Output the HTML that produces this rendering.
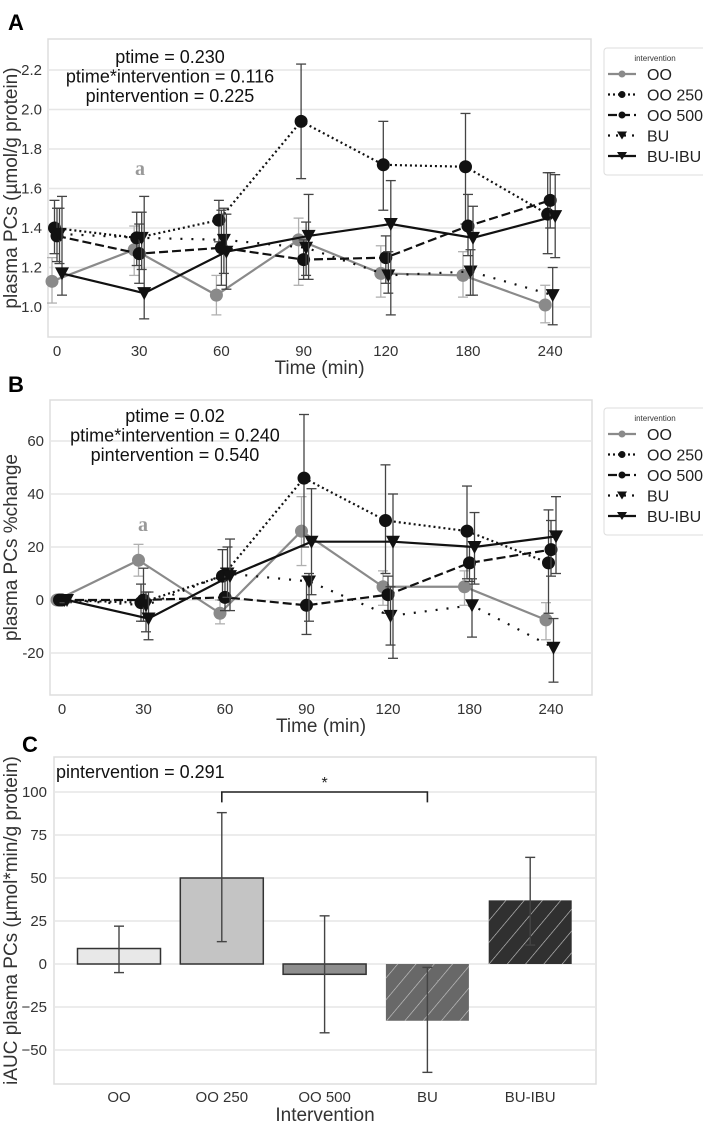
<!DOCTYPE html>
<html><head><meta charset="utf-8">
<style>
html,body{margin:0;padding:0;background:#fff;}
svg{display:block;font-family:"Liberation Sans",Arial,sans-serif;}
</style></head>
<body>
<svg id="fig" width="703" height="1127" viewBox="0 0 703 1127" xmlns="http://www.w3.org/2000/svg">
<text x="8" y="30" font-size="22" font-weight="bold">A</text>
<text x="8" y="392" font-size="22" font-weight="bold">B</text>
<text x="22" y="752" font-size="22" font-weight="bold">C</text>
</svg>
<script>
const NS="http://www.w3.org/2000/svg";
const svg=document.getElementById('fig');
function mk(tag,attrs,parent){const e=document.createElementNS(NS,tag);for(const k in attrs)e.setAttribute(k,attrs[k]);(parent||svg).appendChild(e);return e;}

// ---- shared data ----
const timeLabels=["0","30","60","90","120","180","240"];
const seriesNames=["OO","OO 250","OO 500","BU","BU-IBU"];

// ---- panel A data ----
const aOO=[1.13,1.29,1.06,1.34,1.17,1.16,1.01];
const aOOLo=[1.02,1.16,0.96,1.11,1.05,1.05,0.92];
const aOOHi=[1.25,1.41,1.16,1.45,1.31,1.28,1.11];
const aOO250=[1.40,1.35,1.44,1.94,1.72,1.71,1.47];
const aOO250Lo=[1.27,1.21,1.33,1.65,1.49,1.42,1.27];
const aOO250Hi=[1.54,1.48,1.54,2.23,1.94,1.98,1.68];
const aOO500=[1.36,1.27,1.30,1.24,1.25,1.41,1.54];
const aOO500Lo=[1.23,1.12,1.11,1.14,1.12,1.26,1.40];
const aOO500Hi=[1.50,1.42,1.49,1.34,1.36,1.57,1.68];
const aBU=[1.37,1.35,1.34,1.30,1.16,1.18,1.06];
const aBULo=[1.22,1.19,1.17,1.16,1.07,1.06,0.91];
const aBUHi=[1.50,1.48,1.50,1.43,1.28,1.29,1.20];
const aBUIBU=[1.17,1.07,1.28,1.36,1.42,1.35,1.46];
const aBUIBULo=[1.06,0.94,1.09,1.14,0.96,1.06,1.25];
const aBUIBUHi=[1.56,1.56,1.47,1.57,1.64,1.51,1.67];
const aTicks=[1.0,1.2,1.4,1.6,1.8,2.0,2.2];
const aTickLabels=["1.0","1.2","1.4","1.6","1.8","2.0","2.2"];

// ---- panel B data ----
const bOO=[0,15,-5,26,5,5,-7.5];
const bOOLo=[-1,9,-9,13,-2,-2,-15];
const bOOHi=[1,21,0,39,11,11,-1];
const bOO250=[0,-1,9,46,30,26,14];
const bOO250Lo=[-1,-8,0,20,10,8,-5];
const bOO250Hi=[1,6,19,70,51,43,34];
const bOO500=[0,0,1,-2,2,14,19];
const bOO500Lo=[-1,-8,-4,-13,-5,7,9];
const bOO500Hi=[1,12,12,9,9,20,30];
const bBU=[0,-2,10,7,-6,-2,-18];
const bBULo=[-1,-12,1,-8,-17,-14,-31];
const bBUHi=[1,3,20,10,5,8,-7];
const bBUIBU=[0,-7,9,22,22,20,24];
const bBUIBULo=[-1,-15,-4,2,-22,6,10];
const bBUIBUHi=[1,3,23,42,40,33,39];
const bTicks=[-20,0,20,40,60];
const bTickLabels=["-20","0","20","40","60"];

// ---- panel C data ----
const cCats=["OO","OO 250","OO 500","BU","BU-IBU"];
const cVals=[9,50,-6,-33,37];
const cLo=[-5,13,-40,-63,11];
const cHi=[22,88,28,-2,62];
const cTicks=[-50,-25,0,25,50,75,100];
const cTickLabels=["−50","−25","0","25","50","75","100"];

const styles=[
 {color:"#8a8a8a",dash:"",marker:"circle",err:"#b0b0b0"},
 {color:"#111",dash:"2,3",marker:"circle",err:"#444"},
 {color:"#111",dash:"9,4",marker:"circle",err:"#444"},
 {color:"#111",dash:"2,9",marker:"tri",err:"#444"},
 {color:"#111",dash:"",marker:"tri",err:"#444"}
];
const dodge=[-5,-2.5,0,2.5,5];

function linePanel(p){
  const g=mk('g',{});
  
  
  const xs=i=>p.x0+i*p.xStep;
  const ys=v=>p.yRef+(v-p.vRef)*p.yPer;
  const fr=mk('rect',{x:p.left,y:p.top,width:p.right-p.left,height:p.bottom-p.top,fill:"#fff",stroke:"#ddd","stroke-width":1.5},g);
  
  p.ticks.forEach((t,i)=>{
    const y=ys(t);
    const l=mk('line',{x1:p.left,x2:p.right,y1:y,y2:y,stroke:"#e6e6e6","stroke-width":1.5},g);
    
    const tx=mk('text',{x:p.left-6,y:y+5,"text-anchor":"end","font-size":15,fill:"#333"},g);
    tx.textContent=p.tickLabels[i];
    
  });
  timeLabels.forEach((t,i)=>{
    const tx=mk('text',{x:xs(i),y:p.bottom+19,"text-anchor":"middle","font-size":15,fill:"#333"},g);
    tx.textContent=t;
    
  });
  const xt=mk('text',{x:(p.left+p.right)/2,y:p.bottom+37,"text-anchor":"middle","font-size":19,fill:"#333"},g);
  xt.textContent="Time (min)";
  
  const cy=(p.top+p.bottom)/2;
  const yt=mk('text',{x:0,y:0,"text-anchor":"middle","font-size":19,fill:"#333",transform:`translate(17,${cy}) rotate(-90)`},g);
  yt.textContent=p.yTitle;
  
  p.series.forEach((s,si)=>{
    const st=styles[si];
    const sg=mk('g',{},g);
    
    
    s.v.forEach((v,i)=>{
      const x=xs(i)+dodge[si];
      const y1=ys(s.lo[i]),y2=ys(s.hi[i]);
      mk('line',{x1:x,x2:x,y1:y1,y2:y2,stroke:st.err,"stroke-width":1.3},sg);
      mk('line',{x1:x-5,x2:x+5,y1:y1,y2:y1,stroke:st.err,"stroke-width":1.3},sg);
      mk('line',{x1:x-5,x2:x+5,y1:y2,y2:y2,stroke:st.err,"stroke-width":1.3},sg);
    });
    const pts=s.v.map((v,i)=>(xs(i)+dodge[si])+","+ys(v)).join(" ");
    const pl=mk('polyline',{points:pts,fill:"none",stroke:st.color,"stroke-width":2.2,"stroke-dasharray":st.dash},sg);
    
    s.v.forEach((v,i)=>{
      const x=xs(i)+dodge[si],y=ys(v);
      let m;
      if(st.marker==="circle") m=mk('circle',{cx:x,cy:y,r:6.5,fill:st.color},sg);
      else m=mk('polygon',{points:`${x-7},${y-6} ${x+7},${y-6} ${x},${y+7}`,fill:st.color},sg);
      
    });
  });
  p.notes.forEach((n,i)=>{
    const t=mk('text',{x:p.noteX,y:p.noteY+i*19.5,"text-anchor":"middle","font-size":18,fill:"#111"},g);
    t.textContent=n;
    
  });
  const a=mk('text',{x:p.aX,y:p.aY,"text-anchor":"middle","font-size":20,"font-weight":"bold",fill:"#999","font-family":"Liberation Serif,serif"},g);
  a.textContent="a";
  
  const lg=mk('g',{},g);
  
  mk('rect',{x:604,y:p.legTop,width:105,height:127,fill:"#fff",stroke:"#ddd",rx:3},lg);
  const lt=mk('text',{x:655,y:p.legTop+13,"text-anchor":"middle","font-size":8,fill:"#333"},lg);
  lt.textContent="intervention";
  seriesNames.forEach((nm,si)=>{
    const st=styles[si];const y=p.legTop+26+si*20.5;
    const e=mk('g',{},lg);
    
    mk('line',{x1:608,x2:636,y1:y,y2:y,stroke:st.color,"stroke-width":2.2,"stroke-dasharray":st.dash==="2,9"?"2,6":st.dash},e);
    if(st.marker==="circle") mk('circle',{cx:622,cy:y,r:3.5,fill:st.color},e);
    else mk('polygon',{points:`${617},${y-4} ${627},${y-4} ${622},${y+4}`,fill:st.color},e);
    const t=mk('text',{x:647,y:y+6,"font-size":16,fill:"#222"},e);t.textContent=nm;
  });
}

linePanel({name:"panel-a-chart",left:48,right:591,top:39,bottom:337,x0:57,xStep:82.2,yRef:307,vRef:1.0,yPer:-39.5/0.2,
  ticks:aTicks,tickLabels:aTickLabels,yTitle:"plasma PCs (µmol/g protein)",
  series:[{v:aOO,lo:aOOLo,hi:aOOHi},{v:aOO250,lo:aOO250Lo,hi:aOO250Hi},{v:aOO500,lo:aOO500Lo,hi:aOO500Hi},{v:aBU,lo:aBULo,hi:aBUHi},{v:aBUIBU,lo:aBUIBULo,hi:aBUIBUHi}],
  notes:["ptime = 0.230","ptime*intervention = 0.116","pintervention = 0.225"],noteX:170,noteY:63,aX:140,aY:175,legTop:48});
linePanel({name:"panel-b-chart",left:50,right:592,top:400,bottom:695,x0:62,xStep:81.5,yRef:600,vRef:0,yPer:-53/20,
  ticks:bTicks,tickLabels:bTickLabels,yTitle:"plasma PCs %change",
  series:[{v:bOO,lo:bOOLo,hi:bOOHi},{v:bOO250,lo:bOO250Lo,hi:bOO250Hi},{v:bOO500,lo:bOO500Lo,hi:bOO500Hi},{v:bBU,lo:bBULo,hi:bBUHi},{v:bBUIBU,lo:bBUIBULo,hi:bBUIBUHi}],
  notes:["ptime = 0.02","ptime*intervention = 0.240","pintervention = 0.540"],noteX:175,noteY:422,aX:143,aY:531,legTop:408});

(function(){
  const L=54,R=596,T=757,B=1084;
  const g=mk('g',{});
  
  const ys=v=>964-v*(43/25);
  const xs=i=>119+i*102.8;
  const defs=mk('defs',{},g);
  const pat=mk('pattern',{id:"hatch",patternUnits:"userSpaceOnUse",width:14,height:14,patternTransform:"rotate(40)"},defs);
  mk('line',{x1:0,y1:0,x2:0,y2:14,stroke:"#ccc","stroke-width":1.2},pat);
  const fr=mk('rect',{x:L,y:T,width:R-L,height:B-T,fill:"#fff",stroke:"#ddd","stroke-width":1.5},g);
  
  cTicks.forEach((t,i)=>{
    const y=ys(t);
    const l=mk('line',{x1:L,x2:R,y1:y,y2:y,stroke:"#e6e6e6","stroke-width":1.5},g);
    
    const tx=mk('text',{x:L-7,y:y+5,"text-anchor":"end","font-size":15,fill:"#333"},g);
    tx.textContent=cTickLabels[i];
    
  });
  const fills=["#e8e8e8","#c4c4c4","#8e8e8e","#686868","#303030"];
  const hatched=[false,false,false,true,true];
  cVals.forEach((v,i)=>{
    const x=xs(i),w=83,y0=ys(0),y1=ys(v);
    const bg=mk('g',{},g);
    
    
    mk('rect',{x:x-w/2,y:Math.min(y0,y1),width:w,height:Math.abs(y1-y0),fill:fills[i],stroke:hatched[i]?"none":"#333","stroke-width":1.5},bg);
    if(hatched[i]) mk('rect',{x:x-w/2,y:Math.min(y0,y1),width:w,height:Math.abs(y1-y0),fill:"url(#hatch)"},bg);
    const e1=ys(cLo[i]),e2=ys(cHi[i]);
    mk('line',{x1:x,x2:x,y1:e1,y2:e2,stroke:"#444","stroke-width":1.4},bg);
    mk('line',{x1:x-5,x2:x+5,y1:e1,y2:e1,stroke:"#444","stroke-width":1.4},bg);
    mk('line',{x1:x-5,x2:x+5,y1:e2,y2:e2,stroke:"#444","stroke-width":1.4},bg);
    const tx=mk('text',{x:x,y:1102,"text-anchor":"middle","font-size":15,fill:"#333"},g);
    tx.textContent=cCats[i];
    
  });
  const br=mk('polyline',{points:`${xs(1)},${ys(94)} ${xs(1)},${ys(100)} ${xs(3)},${ys(100)} ${xs(3)},${ys(94)}`,fill:"none",stroke:"#222","stroke-width":1.6},g);
  
  const st=mk('text',{x:(xs(1)+xs(3))/2,y:ys(100)-4,"text-anchor":"middle","font-size":16,fill:"#222"},g);
  st.textContent="*";
  
  const pn=mk('text',{x:56,y:778,"font-size":18,fill:"#111"},g);
  pn.textContent="pintervention = 0.291";
  
  const xt=mk('text',{x:(L+R)/2,y:1121,"text-anchor":"middle","font-size":19,fill:"#333"},g);
  xt.textContent="Intervention";
  
  const yt=mk('text',{x:0,y:0,"text-anchor":"middle","font-size":19,fill:"#333",transform:`translate(17,${(T+B)/2}) rotate(-90)`},g);
  yt.textContent="iAUC plasma PCs (µmol*min/g protein)";
  
})();
</script>
</body></html>
